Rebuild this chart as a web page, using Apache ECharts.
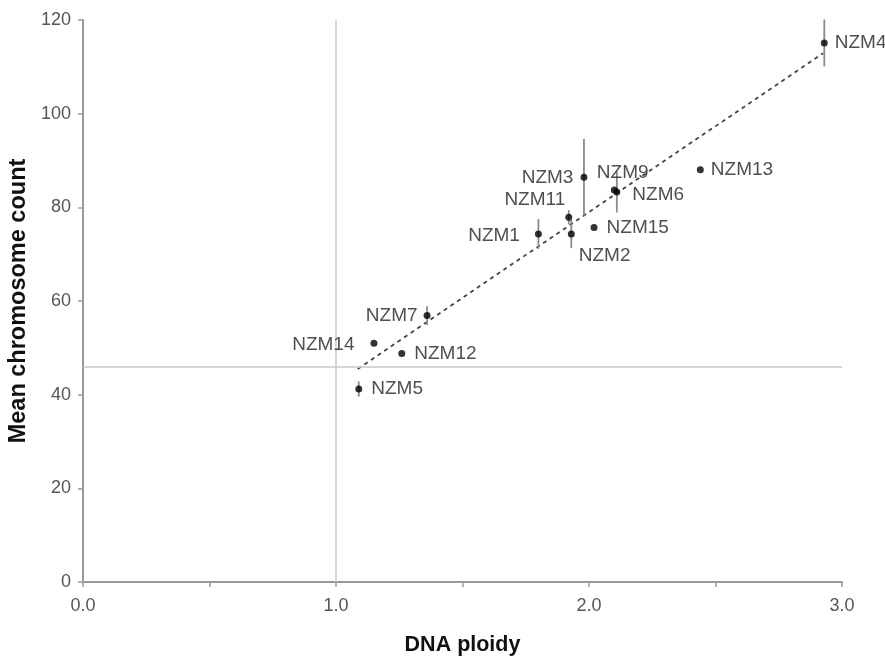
<!DOCTYPE html>
<html>
<head>
<meta charset="utf-8">
<script src="https://cdn.jsdelivr.net/npm/echarts@6/dist/echarts.min.js"></script>
<style>
  html, body { margin: 0; padding: 0; background: #fff; }
  #main { width: 885px; height: 657px; }
</style>
</head>
<body>
<div id="main"></div>
<script>
// 数据
var names  = ['NZM1', 'NZM2', 'NZM3', 'NZM4', 'NZM5', 'NZM6', 'NZM7', 'NZM9', 'NZM11', 'NZM12', 'NZM13', 'NZM14', 'NZM15'];
var ploidy = [1.80, 1.93, 1.98, 2.93, 1.09, 2.11, 1.36, 2.10, 1.92, 1.26, 2.44, 1.15, 2.02];
var counts = [74.3, 74.3, 86.4, 115.1, 41.2, 83.3, 56.9, 83.7, 77.9, 48.8, 88.0, 51.0, 75.7];
var errors = [3.2, 3.0, 8.2, 5.0, 1.6, 4.4, 2.0, 0, 1.5, 0, 0, 0, 0];
var trendX = [1.086, 2.925];
var trendY = [45.5, 112.9];
var refPloidy = 1.0;
var refCount = 46;

// 标签位置
var labelPos = {
    NZM1:  ['left',  -10, 2],
    NZM2:  ['right', -1, 22],
    NZM3:  ['left',  -2, 0],
    NZM4:  ['right', 2, 0],
    NZM5:  ['right', 4, 0],
    NZM6:  ['right', 7, 3],
    NZM7:  ['left',  -1, 0],
    NZM9:  ['right', -26, -17],
    NZM11: ['left',  5, -17],
    NZM12: ['right', 4, 0],
    NZM13: ['right', 2, 0],
    NZM14: ['left',  -11, 2],
    NZM15: ['right', 4, 0]
};

var pointData = names.map(function (n, i) {
    var p = labelPos[n];
    return {
        name: n,
        value: [ploidy[i], counts[i]],
        label: { position: p[0], offset: [p[1], p[2]] }
    };
});

var errData = [];
names.forEach(function (n, i) {
    if (errors[i] > 0) {
        errData.push([ploidy[i], counts[i] - errors[i], counts[i] + errors[i]]);
    }
});

var trendData = trendX.map(function (x, i) { return [x, trendY[i]]; });

var myChart = echarts.init(document.getElementById('main'));

var fontFam = 'Liberation Sans, Arial, sans-serif';
var axisFont = { color: '#555', fontSize: 18, fontFamily: fontFam };

var option = {
    animation: false,
    backgroundColor: '#fff',
    grid: { left: 83, right: 43, top: 20, bottom: 75, containLabel: false, outerBoundsMode: 'none' },
    xAxis: {
        type: 'value',
        min: 0, max: 3, interval: 0.5,
        name: 'DNA ploidy',
        nameLocation: 'middle',
        nameGap: 52,
        nameTextStyle: { color: '#111', fontSize: 21.5, fontWeight: 'bold', fontFamily: fontFam },
        splitLine: { show: false },
        axisLine: { lineStyle: { color: '#999', width: 2 } },
        axisTick: { show: true, length: 5, lineStyle: { color: '#999', width: 1.5 } },
        axisLabel: Object.assign({
            margin: 15,
            formatter: function (v) { return (Math.abs(v % 1) < 1e-9) ? v.toFixed(1) : ''; }
        }, axisFont)
    },
    yAxis: {
        type: 'value',
        min: 0, max: 120, interval: 20,
        name: 'Mean chromosome count',
        nameLocation: 'middle',
        nameGap: 50,
        nameTextStyle: { color: '#111', fontSize: 23.5, fontWeight: 'bold', fontFamily: fontFam },
        splitLine: { show: false },
        axisLine: { show: true, lineStyle: { color: '#999', width: 2 } },
        axisTick: { show: true, length: 5, lineStyle: { color: '#999', width: 1.5 } },
        axisLabel: Object.assign({ margin: 12 }, axisFont)
    },
    series: [
        {
            // 参考线
            type: 'line',
            data: [],
            silent: true,
            markLine: {
                symbol: 'none',
                silent: true,
                label: { show: false },
                lineStyle: { color: '#c8c8c8', width: 1.5, type: 'solid' },
                data: [{ xAxis: refPloidy }, { yAxis: refCount }]
            }
        },
        {
            // 趋势线
            type: 'line',
            data: trendData,
            symbol: 'none',
            silent: true,
            lineStyle: { color: '#444', width: 1.8, type: [4, 4] },
            z: 3
        },
        {
            // 误差线
            type: 'custom',
            data: errData,
            silent: true,
            z: 4,
            renderItem: function (params, api) {
                var lo = api.coord([api.value(0), api.value(1)]);
                var hi = api.coord([api.value(0), api.value(2)]);
                return {
                    type: 'line',
                    shape: { x1: lo[0], y1: lo[1], x2: hi[0], y2: hi[1] },
                    style: { stroke: '#8a8a8a', lineWidth: 1.8 }
                };
            }
        },
        {
            type: 'scatter',
            data: pointData,
            symbolSize: 7,
            itemStyle: { color: '#000' },
            z: 5,
            label: {
                show: true,
                formatter: '{b}',
                distance: 5,
                color: '#222',
                fontSize: 19,
                fontFamily: fontFam
            }
        }
    ]
};

myChart.setOption(option);
</script>
</body>
</html>
